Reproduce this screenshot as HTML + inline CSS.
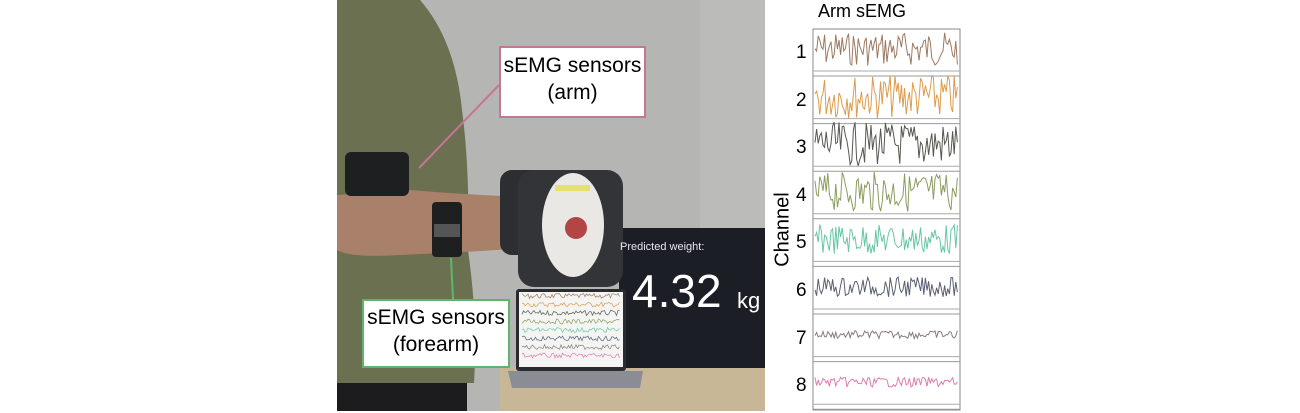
<!DOCTYPE html>
<html><head><meta charset="utf-8"><style>
body{margin:0;width:1300px;height:413px;background:#fff;overflow:hidden;position:relative;font-family:"Liberation Sans",sans-serif}
.a{position:absolute}
</style></head><body>
<svg class="a" style="left:0;top:0" width="1300" height="413">
<rect x="337" y="0" width="428" height="411" fill="#b5b6b4"/>
<rect x="700" y="0" width="65" height="411" fill="#bbbcba"/>
<path d="M337 0 L420 0 Q455 40 462 110 Q470 170 468 250 Q478 320 474 383 L337 383 Z" fill="#6b7050"/>
<rect x="337" y="383" width="130" height="28" fill="#1c1c1e"/>
<path d="M337 195 L410 190 Q470 195 525 197 L528 248 Q470 252 400 255 Q350 258 337 250 Z" fill="#a9806a"/>
<rect x="345" y="152" width="64" height="44" rx="6" fill="#1e1f21"/>
<rect x="432" y="202" width="30" height="55" rx="4" fill="#1e1f21"/>
<rect x="434" y="224" width="26" height="13" fill="#555"/>
<rect x="500" y="367" width="265" height="44" fill="#c7b797"/>
<rect x="619" y="228" width="146" height="140" fill="#1b1e24"/>
<rect x="500" y="170" width="45" height="85" rx="12" fill="#2d2e31"/>
<rect x="518" y="170" width="105" height="117" rx="16" fill="#333437"/>
<ellipse cx="573" cy="225" rx="31" ry="52" fill="#e9e8e4"/>
<rect x="555" y="185" width="35" height="6" fill="#e6e070"/>
<circle cx="576" cy="228" r="11" fill="#b44545"/>
<rect x="516" y="289" width="110" height="82" rx="3" fill="#2a2b2e"/>
<rect x="519" y="292" width="104" height="75" fill="#f4f4f2"/>
<g id="lap"></g>
<path d="M508 371 L643 371 L640 388 L512 388 Z" fill="#8a8d93"/>
<line x1="499" y1="85" x2="419" y2="168" stroke="#c57595" stroke-width="2"/>
<line x1="451" y1="258" x2="453" y2="299" stroke="#5cb86a" stroke-width="2"/>
<rect x="813" y="29" width="147" height="381" fill="#fff" stroke="#888" stroke-width="1"/>
<g id="waves"></g>
</svg>
<div class="a" style="left:499px;top:46px;width:143px;height:64px;border:2px solid #c27895;background:#fff;text-align:center;font-size:21px;line-height:27px;padding-top:4px">sEMG sensors<br>(arm)</div>
<div class="a" style="left:362px;top:299px;width:144px;height:62px;border:2px solid #5fb36c;background:#fff;text-align:center;font-size:21px;line-height:27px;padding-top:3px">sEMG sensors<br>(forearm)</div>
<div class="a" style="left:620px;top:241px;color:#e8e8ee;font-size:11px">Predicted weight:</div>
<div class="a" style="left:632px;top:268px;color:#fff;font-size:46px;line-height:46px">4.32</div>
<div class="a" style="left:737px;top:288px;color:#fff;font-size:22px">kg</div>
<div class="a" style="left:812px;top:1px;width:100px;text-align:center;font-size:18px">Arm sEMG</div>
<div class="a" style="left:733px;top:218px;width:100px;text-align:center;font-size:20px;transform:rotate(-90deg)">Channel</div>
<div id="nums"></div>
<script>
var cols=["#9c7a62","#dc9c4c","#55594f","#8c9c60","#68c6a6","#5a6072","#8a7a82","#e07cb0"];
var amp=[17,22,22,20,15,10,4,5];
var s="",n="",l="";
var seed=7;function r(){seed=(seed*9301+49297)%233280;return seed/233280;}
for(var i=0;i<8;i++){
 var y0=29+i*47.6, cy=y0+20;
 var p=[];for(var x=815;x<=959;x+=1.6){p.push(x.toFixed(1)+","+(cy+(r()*2-1)*amp[i]).toFixed(1));}
 s+='<polyline points="'+p.join(" ")+'" fill="none" stroke="'+cols[i]+'" stroke-width="1"/>';
 s+='<line x1="813" y1="'+(y0+42)+'" x2="960" y2="'+(y0+42)+'" stroke="#aaa" stroke-width="1"/>';
 s+='<line x1="813" y1="'+(y0+47)+'" x2="960" y2="'+(y0+47)+'" stroke="#999" stroke-width="1"/>';
 n+='<div class="a" style="left:796px;top:'+(y0+13)+'px;font-size:19px">'+(i+1)+'</div>';
 var ly=296+i*8.5,q=[];for(var x=522;x<=620;x+=1.5){q.push(x.toFixed(1)+","+(ly+(r()*2-1)*2.5).toFixed(1));}
 l+='<polyline points="'+q.join(" ")+'" fill="none" stroke="'+cols[i]+'" stroke-width="0.7"/>';
}
document.getElementById("waves").innerHTML=s;
document.getElementById("lap").innerHTML=l;
document.getElementById("nums").innerHTML=n;
</script>
</body></html>
